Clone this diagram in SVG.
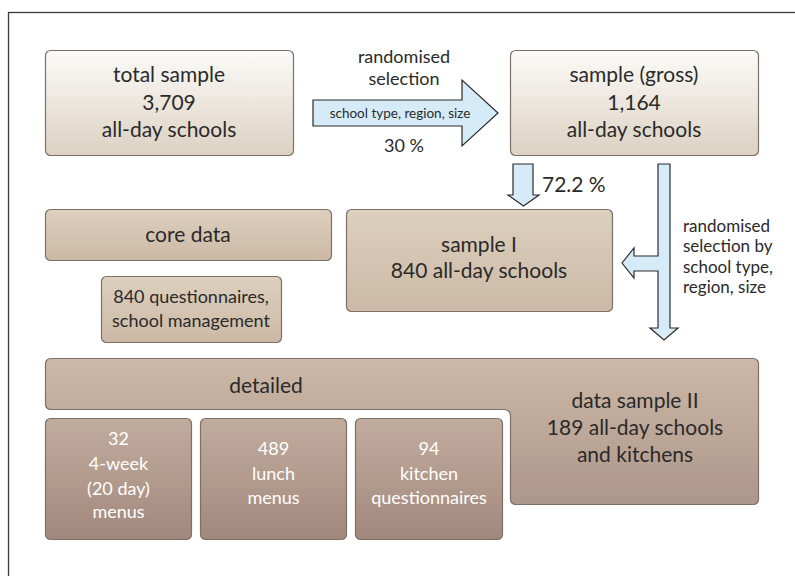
<svg xmlns="http://www.w3.org/2000/svg" width="795" height="576" viewBox="0 0 795 576">
<defs>
<linearGradient id="gTop" x1="0" y1="0" x2="0" y2="1"><stop offset="0" stop-color="#fcfbf9"/><stop offset="1" stop-color="#dcd1c2"/></linearGradient>
<linearGradient id="gMid" x1="0" y1="0" x2="0" y2="1"><stop offset="0" stop-color="#ddd0be"/><stop offset="1" stop-color="#cbb9a5"/></linearGradient>
<linearGradient id="gBig" gradientUnits="userSpaceOnUse" x1="0" y1="358" x2="0" y2="504"><stop offset="0" stop-color="#cdb9a7"/><stop offset="1" stop-color="#ad968a"/></linearGradient>
<linearGradient id="gSmall" x1="0" y1="0" x2="0" y2="1"><stop offset="0" stop-color="#c2ac9e"/><stop offset="1" stop-color="#a2887c"/></linearGradient>
</defs>
<style>
.t{font-family:Lato,"Liberation Sans",sans-serif;fill:#2a2a2a;text-anchor:middle}
.big{font-size:21px}
.mid{font-size:18px}
.lab{font-size:17px}
.sm{font-size:13.5px}
.w{fill:#ffffff}
.box{stroke:#7d7066;stroke-width:1.2}
.arr{fill:#d6ebf8;stroke:#2b2b2b;stroke-width:1.2;stroke-linejoin:miter}
</style>
<rect x="8.5" y="12.5" width="800" height="600" fill="none" stroke="#3a3a3a" stroke-width="1.3"/>

<g id="connectors">
<polygon class="arr" points="313,100 462,100 462,80 498,113 462,146 462,126 313,126"/>
<polygon class="arr" points="513,164 533,164 533,195 539,195 523.5,206 508,195 513,195"/>
<polygon class="arr" points="658,164 670,164 670,328 678,328 664,340 650,328 658,328 658,271 634,271 634,278 622,263 634,248 634,256 658,256"/>
<text class="t mid" x="404" y="63">randomised</text>
<text class="t mid" x="404" y="85">selection</text>
<text class="t sm" x="400" y="118">school type, region, size</text>
<text class="t mid" x="404" y="152">30 %</text>
<text class="t big" x="542" y="192" style="text-anchor:start">72.2 %</text>
<text class="t lab" x="683" y="231.5" style="text-anchor:start">randomised</text>
<text class="t lab" x="683" y="252" style="text-anchor:start">selection by</text>
<text class="t lab" x="683" y="272.5" style="text-anchor:start">school type,</text>
<text class="t lab" x="683" y="293" style="text-anchor:start">region, size</text>
</g>

<g id="total-sample">
<rect class="box" x="45.5" y="50.5" width="248" height="105" rx="5" fill="url(#gTop)"/>
<text class="t big" x="169" y="82">total sample</text>
<text class="t big" x="169" y="110">3,709</text>
<text class="t big" x="169" y="137">all-day schools</text>
</g>

<g id="sample-gross">
<rect class="box" x="510.5" y="50.5" width="248" height="105" rx="5" fill="url(#gTop)"/>
<text class="t big" x="634" y="82">sample (gross)</text>
<text class="t big" x="634" y="110">1,164</text>
<text class="t big" x="634" y="137">all-day schools</text>
</g>

<g id="core-data">
<rect class="box" x="45.5" y="209.5" width="286" height="51" rx="5" fill="url(#gMid)"/>
<text class="t big" x="188" y="242">core data</text>
</g>

<g id="questionnaires">
<rect class="box" x="101.5" y="276.5" width="180" height="66" rx="5" fill="url(#gMid)"/>
<text class="t mid" x="191" y="303">840 questionnaires,</text>
<text class="t mid" x="191" y="327">school management</text>
</g>

<g id="sample-i">
<rect class="box" x="346.5" y="209.5" width="266" height="102" rx="5" fill="url(#gMid)"/>
<text class="t big" x="479" y="252">sample I</text>
<text class="t big" x="479" y="278">840 all-day schools</text>
</g>

<g id="detailed-data-sample-ii">
<path class="box" fill="url(#gBig)" d="M50.5,358.5 H753.5 A5,5 0 0 1 758.5,363.5 V499.5 A5,5 0 0 1 753.5,504.5 H515.5 A5,5 0 0 1 510.5,499.5 V415.5 A6,6 0 0 0 504.5,409.5 H50.5 A5,5 0 0 1 45.5,404.5 V363.5 A5,5 0 0 1 50.5,358.5 Z"/>
<text class="t big" x="266" y="393">detailed</text>
<text class="t big" x="635" y="408">data sample II</text>
<text class="t big" x="635" y="435">189 all-day schools</text>
<text class="t big" x="635" y="462">and kitchens</text>
</g>

<g id="menus-4-week">
<rect class="box" x="45.5" y="418.5" width="146" height="121" rx="5" fill="url(#gSmall)"/>
<text class="t mid w" x="118.5" y="445">32</text>
<text class="t mid w" x="118.5" y="470">4-week</text>
<text class="t mid w" x="118.5" y="495">(20 day)</text>
<text class="t mid w" x="118.5" y="518">menus</text>
</g>

<g id="lunch-menus">
<rect class="box" x="200.5" y="418.5" width="146" height="121" rx="5" fill="url(#gSmall)"/>
<text class="t mid w" x="273.5" y="455">489</text>
<text class="t mid w" x="273.5" y="480">lunch</text>
<text class="t mid w" x="273.5" y="504">menus</text>
</g>

<g id="kitchen-questionnaires">
<rect class="box" x="355.5" y="418.5" width="147" height="121" rx="5" fill="url(#gSmall)"/>
<text class="t mid w" x="429" y="455">94</text>
<text class="t mid w" x="429" y="480">kitchen</text>
<text class="t mid w" x="429" y="504">questionnaires</text>
</g>
</svg>
